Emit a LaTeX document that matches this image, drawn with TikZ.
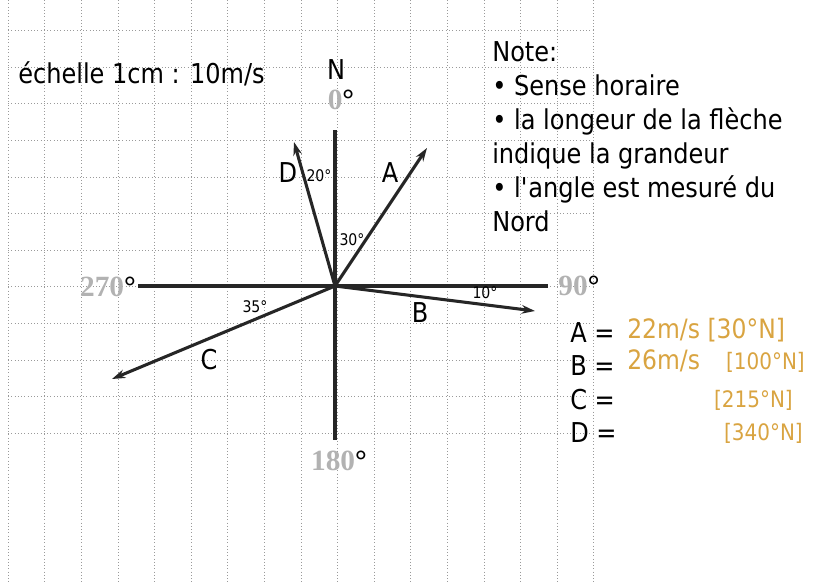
\documentclass[tikz,border=0pt]{standalone}
\usepackage{fontspec}
\setmainfont{DejaVu Sans}[FakeStretch=0.88]
\newfontfamily\degfont{Liberation Serif}
\usepackage{tikz}
\usetikzlibrary{arrows.meta,positioning}
\definecolor{ink}{HTML}{D9A441}
\definecolor{gridc}{HTML}{9A9A9A}

\begin{document}
\begin{tikzpicture}[x=0.75pt, y=-0.75pt,
  grd/.style={gridc, dotted, line width=0.45pt},
  axis/.style={line width=2.4pt, black!85},
  vec/.style={line width=2.3pt, black!85, -{Stealth[length=10pt, width=6.5pt]}},
  txt/.style={font=\fontsize{20.5}{25.5}\selectfont, inner sep=0pt},
  ang/.style={font=\fontsize{12}{12}\selectfont, inner sep=0pt},
  deg/.style={font=\degfont\bfseries\fontsize{22}{22}\selectfont, text=gray!60, inner sep=0pt},
  hand/.style={font=\fontsize{20}{20}\selectfont, text=ink, inner sep=0pt}]
  \useasboundingbox (0,0) rectangle (817,582);
  % grid
  \foreach \k in {0,...,16} \draw[grd] (8+36.6*\k,0) -- (8+36.6*\k,582);
  \foreach \k in {0,...,11} \draw[grd] (8,30.4+36.6*\k) -- (594,30.4+36.6*\k);
  % axes
  \coordinate (O) at (335,286);
  \coordinate (n) at (335,130); \coordinate (s) at (335,440);
  \coordinate (w) at (138,286); \coordinate (e) at (548,286);
  \draw[axis] (n) -- (s); \draw[axis] (w) -- (e);
  \node[deg] (d0) at (341,100) {0\textcolor{black}{°}};
  \node[deg] (d90) at (579,286) {90\textcolor{black}{°}};
  \node[deg] (d180) at (339,461) {180\textcolor{black}{°}};
  \node[deg] (d270) at (108,287) {270\textcolor{black}{°}};
  \node[txt] (north) at (336,70) {N};
  % vectors
  \coordinate (tA) at (427,148); \coordinate (tB) at (535,311);
  \coordinate (tC) at (112,379); \coordinate (tD) at (294,142);
  \draw[vec] (O) -- (tA); \draw[vec] (O) -- (tB);
  \draw[vec] (O) -- (tC); \draw[vec] (O) -- (tD);
  \node[txt] (lA) at (390,173) {A};
  \node[txt] (lB) at (420,313) {B};
  \node[txt] (lC) at (209,360) {C};
  \node[txt] (lD) at (288,173) {D};
  \node[ang] (aA) at (352,240) {30°};
  \node[ang] (aB) at (485,293) {10°};
  \node[ang] (aC) at (255,307) {35°};
  \node[ang] (aD) at (319,176) {20°};
  % texts
  \node[txt, anchor=west] (scale) at (18,74) {échelle 1cm : 10m/s};
  \node[txt, anchor=north west, align=left] (note) at (492,41)
    {Note:\\• Sense horaire\\• la longeur de la flèche\\indique la grandeur\\• l\textquotesingle angle est mesuré du\\Nord};
  % answers
  \node[txt, anchor=west] (qA) at (570,333) {A =};
  \node[txt, anchor=west] (qB) at (570,366) {B =};
  \node[txt, anchor=west] (qC) at (570,400) {C =};
  \node[txt, anchor=west] (qD) at (570,433) {D =};
  \node[hand, anchor=west] (hA) at (627,330) {22m/s [30°N]};
  \node[hand, anchor=west] (hB) at (627,361) {26m/s};
  \node[hand, anchor=east, font=\fontsize{17}{17}\selectfont] (rB) at (805,362) {[100°N]};
  \node[hand, anchor=east, font=\fontsize{17}{17}\selectfont] (rC) at (793,400) {[215°N]};
  \node[hand, anchor=east, font=\fontsize{17}{17}\selectfont] (rD) at (803,433) {[340°N]};
\end{tikzpicture}
\end{document}
